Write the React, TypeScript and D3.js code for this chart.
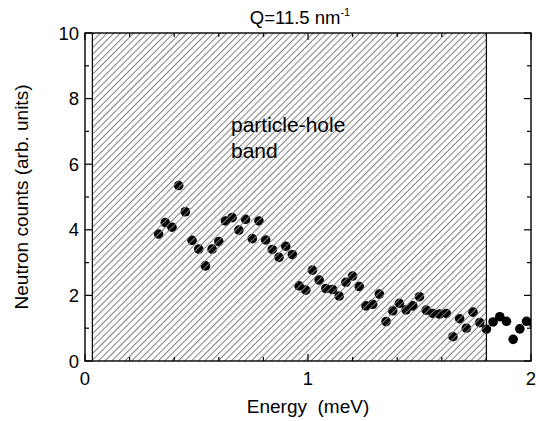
import React from "react";
import * as d3 from "d3";

const energy = [
  0.33, 0.36, 0.39, 0.42, 0.45, 0.48, 0.51, 0.54, 0.57, 0.6, 0.63, 0.66, 0.69,
  0.72, 0.75, 0.78, 0.81, 0.84, 0.87, 0.9, 0.93, 0.96, 0.99, 1.02, 1.05, 1.08,
  1.11, 1.14, 1.17, 1.2, 1.23, 1.26, 1.29, 1.32, 1.35, 1.38, 1.41, 1.44, 1.47,
  1.5, 1.53, 1.56, 1.59, 1.62, 1.65, 1.68, 1.71, 1.74, 1.77, 1.8, 1.83, 1.86,
  1.89, 1.92, 1.95, 1.98, 2.01,
];
const counts = [
  3.87, 4.22, 4.08, 5.35, 4.55, 3.68, 3.41, 2.9, 3.41, 3.64, 4.27, 4.37, 3.99,
  4.32, 3.73, 4.27, 3.69, 3.4, 3.16, 3.5, 3.24, 2.29, 2.16, 2.77, 2.47, 2.21,
  2.18, 1.98, 2.4, 2.59, 2.27, 1.68, 1.73, 2.04, 1.2, 1.53, 1.76, 1.56, 1.68,
  1.96, 1.55, 1.45, 1.43, 1.45, 0.74, 1.29, 1.0, 1.49, 1.17, 0.97, 1.19, 1.35,
  1.21, 0.66, 0.98, 1.21, 1.15,
];
const band = [0.033, 1.8];
const xTicks = [0, 1, 2];
const yTicks = [0, 2, 4, 6, 8, 10];
const xMinor = [0.2, 0.4, 0.6, 0.8, 1.2, 1.4, 1.6, 1.8];
const yMinor = [1, 3, 5, 7, 9];

const W = 536;
const H = 421;
const m = { left: 85, right: 5, top: 33, bottom: 60 };
const font = "'Liberation Sans', Arial, sans-serif";

export default function App() {
  const x = d3.scaleLinear().domain([0, 2]).range([m.left, W - m.right]);
  const y = d3.scaleLinear().domain([0, 10]).range([H - m.bottom, m.top]);
  const [x0, x1] = x.range();
  const [y0, y1] = y.range();
  const pts = energy.map((e, i) => ({ e, c: counts[i] }));

  return (
    <svg
      width={W}
      height={H}
      style={{ position: "absolute", left: 0, top: 0, background: "#fff" }}
      fontFamily={font}
    >
      <defs>
        <clipPath id="plot">
          <rect x={x0} y={y1} width={x1 - x0} height={y0 - y1} />
        </clipPath>
        <pattern
          id="hatch"
          width={4.7}
          height={10}
          patternUnits="userSpaceOnUse"
          patternTransform="rotate(45)"
        >
          <line x1={0.5} y1={0} x2={0.5} y2={10} stroke="#808080" strokeWidth={1} />
        </pattern>
      </defs>

      {/* data points */}
      <g clipPath="url(#plot)">
        {pts.map((p, i) => (
          <circle key={i} cx={x(p.e)} cy={y(p.c)} r={4.8} fill="#000" />
        ))}
      </g>

      {/* particle-hole band, hatched over the points */}
      <rect
        x={x(band[0])}
        y={y1}
        width={x(band[1]) - x(band[0])}
        height={y0 - y1}
        fill="url(#hatch)"
      />
      <line x1={x(band[0])} x2={x(band[0])} y1={y1} y2={y0} stroke="#000" strokeWidth={1.2} />
      <line x1={x(band[1])} x2={x(band[1])} y1={y1} y2={y0} stroke="#000" strokeWidth={1.2} />

      {/* frame */}
      <rect x={x0} y={y1} width={x1 - x0} height={y0 - y1} fill="none" stroke="#000" strokeWidth={1.4} />

      {/* ticks, inside on all four sides */}
      <g stroke="#000" strokeWidth={1.2}>
        {xTicks.map((t) => (
          <g key={"xM" + t}>
            <line x1={x(t)} x2={x(t)} y1={y0} y2={y0 - 7} />
            <line x1={x(t)} x2={x(t)} y1={y1} y2={y1 + 7} />
          </g>
        ))}
        {xMinor.map((t) => (
          <g key={"xm" + t}>
            <line x1={x(t)} x2={x(t)} y1={y0} y2={y0 - 4} />
            <line x1={x(t)} x2={x(t)} y1={y1} y2={y1 + 4} />
          </g>
        ))}
        {yTicks.map((t) => (
          <g key={"yM" + t}>
            <line x1={x0} x2={x0 + 7} y1={y(t)} y2={y(t)} />
            <line x1={x1} x2={x1 - 7} y1={y(t)} y2={y(t)} />
          </g>
        ))}
        {yMinor.map((t) => (
          <g key={"ym" + t}>
            <line x1={x0} x2={x0 + 4} y1={y(t)} y2={y(t)} />
            <line x1={x1} x2={x1 - 4} y1={y(t)} y2={y(t)} />
          </g>
        ))}
      </g>

      {/* tick labels */}
      <g fontSize={18.5} fill="#000">
        {xTicks.map((t) => (
          <text key={t} x={x(t)} y={y0 + 24} textAnchor="middle">
            {t}
          </text>
        ))}
        {yTicks.map((t) => (
          <text key={t} x={x0 - 6} y={y(t) + 6.5} textAnchor="end">
            {t}
          </text>
        ))}
      </g>

      {/* titles */}
      <text x={300} y={24} textAnchor="middle" fontSize={18.5}>
        Q=11.5 nm<tspan fontSize={11} dy={-8}>-1</tspan>
      </text>
      <text x={x(1)} y={413} textAnchor="middle" fontSize={19} style={{ whiteSpace: "pre" }}>
        {"Energy  (meV)"}
      </text>
      <text
        transform={`translate(28,${(y0 + y1) / 2}) rotate(-90)`}
        textAnchor="middle"
        fontSize={19}
      >
        Neutron counts (arb. units)
      </text>

      <g fontSize={21}>
        <text x={231} y={132}>particle-hole</text>
        <text x={231} y={158}>band</text>
      </g>
    </svg>
  );
}
